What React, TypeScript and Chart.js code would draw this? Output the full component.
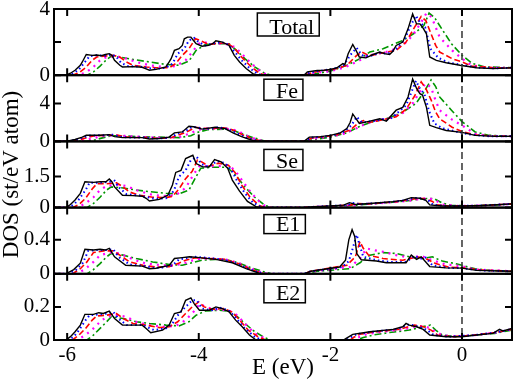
import React, { useEffect, useRef } from 'react';
import { Chart, registerables } from 'chart.js';

Chart.register(...registerables);

const FONT = 'Liberation Serif';

// ---------- axes ----------
const X_MIN = -6.2;
const X_MAX = 0.76;
const X_TICKS = [-6, -4, -2, 0];
const PANEL_LABELS = ['Total', 'Fe', 'Se', 'E1', 'E2'];
const Y_MAX = [4, 7, 3.2, 0.78, 0.4];
const Y_TICKS = [[0, 2, 4], [0, 4], [0, 1.5], [0, 0.4], [0, 0.2]];

// ---------- Total ----------
const TOTAL_BLACK = [[-6.2,0],[-6.02,0],[-5.95,0.12],[-5.88,0.3],[-5.8,0.6],[-5.77,0.8],[-5.71,1.25],[-5.62,1.2],[-5.55,1.22],[-5.48,1.18],[-5.42,1.25],[-5.36,1.3],[-5.32,1.2],[-5.28,0.9],[-5.2,0.6],[-5.16,0.5],[-5.0,0.52],[-4.86,0.48],[-4.8,0.38],[-4.75,0.3],[-4.65,0.35],[-4.5,0.5],[-4.45,0.8],[-4.42,1.0],[-4.37,1.5],[-4.3,1.6],[-4.25,1.8],[-4.22,2.2],[-4.17,2.3],[-4.12,2.3],[-4.08,2.1],[-4.04,1.9],[-3.95,1.75],[-3.85,1.8],[-3.79,1.9],[-3.74,2.08],[-3.64,2.0],[-3.54,1.8],[-3.5,1.5],[-3.46,1.2],[-3.38,0.8],[-3.28,0.4],[-3.18,0.1],[-3.1,0],[-2.4,0],[-2.35,0.2],[-2.2,0.28],[-2.1,0.3],[-1.99,0.35],[-1.9,0.45],[-1.81,0.7],[-1.78,0.65],[-1.73,1.3],[-1.66,1.86],[-1.61,1.5],[-1.56,1.1],[-1.46,1.05],[-1.35,1.25],[-1.25,1.4],[-1.18,1.3],[-1.1,1.25],[-1.05,1.45],[-1.0,1.8],[-0.9,2.0],[-0.82,2.8],[-0.75,3.7],[-0.72,3.4],[-0.69,3.1],[-0.64,3.1],[-0.6,2.9],[-0.54,2.5],[-0.49,1.1],[-0.39,0.9],[-0.24,0.75],[-0.03,0.6],[0.22,0.45],[0.47,0.4],[0.76,0.45]];
const TOTAL_BLUE = [[-6.2,0],[-5.98,0],[-5.9,0.12],[-5.82,0.35],[-5.72,0.85],[-5.66,1.15],[-5.55,1.2],[-5.42,1.18],[-5.32,1.25],[-5.25,1.1],[-5.18,0.75],[-5.08,0.55],[-4.9,0.52],[-4.75,0.42],[-4.65,0.38],[-4.5,0.45],[-4.4,0.7],[-4.32,1.3],[-4.22,1.6],[-4.15,2.1],[-4.07,2.25],[-4.0,2.0],[-3.9,1.8],[-3.75,1.95],[-3.65,2.0],[-3.55,1.85],[-3.45,1.4],[-3.35,0.9],[-3.22,0.4],[-3.1,0.08],[-3.02,0],[-2.4,0],[-2.3,0.18],[-2.1,0.3],[-1.95,0.38],[-1.8,0.6],[-1.68,1.3],[-1.6,1.65],[-1.52,1.2],[-1.4,1.15],[-1.25,1.35],[-1.12,1.3],[-1.0,1.6],[-0.88,2.1],[-0.78,3.0],[-0.7,3.6],[-0.64,3.2],[-0.56,2.9],[-0.48,1.6],[-0.36,1.05],[-0.2,0.75],[0.0,0.62],[0.25,0.45],[0.5,0.42],[0.76,0.45]];
const TOTAL_RED = [[-6.2,0],[-5.92,0],[-5.82,0.15],[-5.72,0.45],[-5.62,0.9],[-5.55,1.1],[-5.45,1.15],[-5.3,1.2],[-5.2,1.1],[-5.1,0.8],[-5.0,0.6],[-4.8,0.5],[-4.65,0.45],[-4.45,0.45],[-4.35,0.7],[-4.25,1.2],[-4.15,1.6],[-4.05,2.2],[-3.98,2.1],[-3.85,1.85],[-3.7,1.95],[-3.55,1.9],[-3.45,1.6],[-3.35,1.1],[-3.2,0.5],[-3.07,0.1],[-2.98,0],[-2.4,0],[-2.28,0.15],[-2.1,0.28],[-1.9,0.4],[-1.75,0.6],[-1.6,1.2],[-1.52,1.4],[-1.42,1.2],[-1.3,1.25],[-1.15,1.4],[-1.0,1.5],[-0.85,2.0],[-0.72,2.9],[-0.62,3.55],[-0.55,3.3],[-0.48,2.6],[-0.4,1.8],[-0.34,1.4],[-0.15,1.0],[0.0,0.8],[0.15,0.55],[0.5,0.45],[0.76,0.45]];
const TOTAL_MAGENTA = [[-6.2,0],[-5.85,0],[-5.72,0.15],[-5.6,0.5],[-5.5,0.9],[-5.4,1.1],[-5.25,1.15],[-5.1,1.0],[-4.95,0.8],[-4.75,0.6],[-4.55,0.5],[-4.35,0.55],[-4.2,0.9],[-4.1,1.4],[-4.0,1.9],[-3.92,2.0],[-3.8,1.9],[-3.6,1.9],[-3.45,1.7],[-3.35,1.3],[-3.2,0.7],[-3.05,0.2],[-2.95,0],[-2.4,0],[-2.25,0.12],[-2.0,0.25],[-1.8,0.45],[-1.6,0.8],[-1.45,1.15],[-1.3,1.3],[-1.1,1.45],[-0.9,1.8],[-0.75,2.4],[-0.62,3.2],[-0.54,3.75],[-0.46,3.5],[-0.4,2.9],[-0.34,2.3],[-0.15,1.5],[0.0,1.0],[0.15,0.6],[0.4,0.45],[0.76,0.45]];
const TOTAL_GREEN = [[-6.2,0],[-5.7,0],[-5.6,0.2],[-5.5,0.55],[-5.4,0.95],[-5.33,1.15],[-5.2,1.1],[-5.0,0.95],[-4.75,0.8],[-4.5,0.65],[-4.3,0.6],[-4.15,0.85],[-4.04,1.5],[-3.9,1.85],[-3.7,1.9],[-3.54,1.9],[-3.44,1.55],[-3.3,1.0],[-3.15,0.5],[-3.0,0.12],[-2.9,0],[-2.4,0],[-2.2,0.1],[-2.0,0.25],[-1.75,0.6],[-1.55,1.0],[-1.4,1.4],[-1.2,1.6],[-0.9,2.1],[-0.7,2.6],[-0.58,3.0],[-0.5,3.75],[-0.42,3.5],[-0.34,3.0],[-0.16,1.9],[0.0,1.2],[0.16,0.7],[0.35,0.5],[0.76,0.45]];

// ---------- Fe ----------
const FE_BLACK = [[-6.2,0],[-6.02,0],[-5.88,0.2],[-5.77,0.45],[-5.71,0.65],[-5.5,0.65],[-5.36,0.72],[-5.28,0.5],[-5.16,0.4],[-4.86,0.4],[-4.75,0.25],[-4.6,0.3],[-4.45,0.45],[-4.37,0.9],[-4.25,1.0],[-4.15,1.6],[-4.08,1.55],[-3.95,1.3],[-3.75,1.5],[-3.6,1.35],[-3.48,0.9],[-3.35,0.5],[-3.2,0.15],[-3.1,0],[-2.4,0],[-2.32,0.45],[-2.15,0.5],[-2.0,0.64],[-1.85,0.9],[-1.75,1.35],[-1.7,2.0],[-1.66,2.9],[-1.6,2.3],[-1.56,1.9],[-1.4,2.15],[-1.25,2.4],[-1.15,2.15],[-1.0,3.3],[-0.9,3.6],[-0.82,4.7],[-0.75,6.6],[-0.69,5.6],[-0.64,5.05],[-0.6,4.9],[-0.54,3.6],[-0.49,1.7],[-0.39,1.45],[-0.24,1.15],[0,0.95],[0.2,0.64],[0.5,0.53],[0.76,0.55]];
const FE_BLUE = [[-6.2,0],[-5.98,0],[-5.85,0.2],[-5.72,0.5],[-5.65,0.62],[-5.45,0.65],[-5.3,0.7],[-5.2,0.5],[-5.08,0.42],[-4.8,0.4],[-4.68,0.3],[-4.5,0.35],[-4.38,0.6],[-4.3,0.9],[-4.2,1.1],[-4.1,1.55],[-4.0,1.45],[-3.9,1.3],[-3.7,1.5],[-3.55,1.3],[-3.42,0.85],[-3.28,0.4],[-3.12,0.1],[-3.02,0],[-2.4,0],[-2.3,0.4],[-2.1,0.5],[-1.95,0.65],[-1.8,1.0],[-1.68,1.7],[-1.6,2.6],[-1.52,2.0],[-1.35,2.15],[-1.2,2.35],[-1.1,2.3],[-0.95,3.2],[-0.85,3.8],[-0.78,5.0],[-0.7,6.4],[-0.64,5.6],[-0.57,5.0],[-0.5,3.2],[-0.42,1.9],[-0.3,1.4],[-0.1,1.05],[0.1,0.75],[0.4,0.55],[0.76,0.55]];
const FE_RED = [[-6.2,0],[-5.92,0],[-5.8,0.2],[-5.68,0.45],[-5.58,0.6],[-5.4,0.65],[-5.25,0.68],[-5.12,0.5],[-5.0,0.42],[-4.75,0.4],[-4.6,0.33],[-4.42,0.38],[-4.3,0.7],[-4.18,1.0],[-4.05,1.5],[-3.95,1.4],[-3.8,1.35],[-3.62,1.45],[-3.48,1.2],[-3.35,0.75],[-3.2,0.3],[-3.05,0.05],[-2.98,0],[-2.4,0],[-2.28,0.35],[-2.1,0.48],[-1.9,0.7],[-1.7,1.2],[-1.58,1.9],[-1.5,2.2],[-1.4,2.0],[-1.2,2.3],[-1.0,2.6],[-0.85,3.4],[-0.72,4.8],[-0.62,6.3],[-0.55,5.6],[-0.47,4.4],[-0.4,3.1],[-0.34,2.4],[-0.15,1.5],[0,1.05],[0.2,0.7],[0.5,0.55],[0.76,0.55]];
const FE_MAGENTA = [[-6.2,0],[-5.85,0],[-5.72,0.15],[-5.6,0.35],[-5.48,0.55],[-5.3,0.62],[-5.15,0.6],[-4.95,0.5],[-4.7,0.42],[-4.5,0.38],[-4.3,0.45],[-4.15,0.8],[-4.02,1.2],[-3.92,1.35],[-3.7,1.35],[-3.5,1.3],[-3.38,1.0],[-3.25,0.55],[-3.1,0.15],[-2.95,0],[-2.4,0],[-2.25,0.3],[-2.0,0.5],[-1.8,0.8],[-1.6,1.4],[-1.45,1.9],[-1.3,2.2],[-1.1,2.5],[-0.9,3.0],[-0.75,4.0],[-0.62,5.5],[-0.55,6.15],[-0.47,5.7],[-0.4,4.3],[-0.34,3.3],[-0.15,2.3],[0,1.7],[0.2,0.8],[0.45,0.55],[0.76,0.55]];
const FE_GREEN = [[-6.2,0],[-5.7,0],[-5.58,0.15],[-5.45,0.4],[-5.33,0.6],[-5.15,0.58],[-4.9,0.5],[-4.6,0.45],[-4.3,0.4],[-4.12,0.6],[-4.0,1.0],[-3.85,1.25],[-3.6,1.3],[-3.45,1.1],[-3.3,0.7],[-3.15,0.35],[-3.0,0.05],[-2.9,0],[-2.4,0],[-2.2,0.25],[-2.0,0.45],[-1.75,0.9],[-1.55,1.6],[-1.35,2.1],[-1.1,2.5],[-0.9,3.1],[-0.7,4.0],[-0.58,5.2],[-0.47,6.5],[-0.4,5.8],[-0.34,4.7],[-0.16,3.3],[0,2.1],[0.2,1.0],[0.4,0.65],[0.76,0.55]];

// ---------- Se ----------
const SE_BLACK = [[-6.2,0],[-6.02,0],[-5.95,0.15],[-5.88,0.37],[-5.8,0.69],[-5.73,1.25],[-5.6,1.22],[-5.5,1.25],[-5.41,1.25],[-5.36,1.38],[-5.32,1.25],[-5.28,1.0],[-5.16,0.6],[-5.0,0.58],[-4.86,0.55],[-4.8,0.45],[-4.75,0.32],[-4.6,0.4],[-4.47,0.6],[-4.4,1.09],[-4.35,1.7],[-4.27,1.8],[-4.2,2.37],[-4.09,2.53],[-4.04,2.13],[-3.94,1.97],[-3.84,1.97],[-3.76,2.32],[-3.66,2.21],[-3.56,1.9],[-3.49,1.33],[-3.38,0.8],[-3.26,0.3],[-3.13,0.05],[-3.05,0],[-2.4,0],[-2.3,0.03],[-1.8,0.12],[-1.71,0.24],[-1.62,0.15],[-1.3,0.22],[-1.05,0.29],[-0.9,0.35],[-0.77,0.48],[-0.64,0.45],[-0.55,0.35],[-0.49,0.13],[-0.3,0.08],[0,0.08],[0.3,0.1],[0.6,0.15],[0.76,0.18]];
const SE_BLUE = [[-6.2,0],[-5.98,0],[-5.9,0.15],[-5.82,0.4],[-5.72,0.85],[-5.66,1.2],[-5.5,1.2],[-5.35,1.25],[-5.28,1.3],[-5.22,1.0],[-5.1,0.65],[-4.9,0.58],[-4.75,0.48],[-4.65,0.42],[-4.5,0.45],[-4.38,0.8],[-4.3,1.5],[-4.2,1.8],[-4.12,2.3],[-4.03,2.45],[-3.96,2.1],[-3.85,1.97],[-3.72,2.25],[-3.6,2.15],[-3.5,1.8],[-3.42,1.3],[-3.3,0.7],[-3.18,0.25],[-3.05,0.02],[-2.98,0],[-2.4,0],[-2.3,0.03],[-1.75,0.12],[-1.65,0.22],[-1.55,0.16],[-1.2,0.24],[-1.0,0.3],[-0.85,0.36],[-0.72,0.47],[-0.6,0.44],[-0.5,0.32],[-0.44,0.13],[-0.25,0.08],[0,0.08],[0.3,0.1],[0.6,0.15],[0.76,0.18]];
const SE_RED = [[-6.2,0],[-5.92,0],[-5.82,0.15],[-5.72,0.45],[-5.62,0.9],[-5.55,1.15],[-5.4,1.15],[-5.25,1.2],[-5.15,1.0],[-5.05,0.75],[-4.9,0.6],[-4.7,0.5],[-4.5,0.48],[-4.4,0.55],[-4.3,0.9],[-4.2,1.4],[-4.1,1.75],[-4.02,2.3],[-3.95,2.2],[-3.85,2.0],[-3.7,2.15],[-3.55,2.05],[-3.45,1.7],[-3.35,1.1],[-3.22,0.5],[-3.08,0.1],[-2.98,0],[-2.4,0],[-2.3,0.03],[-1.7,0.12],[-1.58,0.2],[-1.45,0.17],[-1.15,0.25],[-0.95,0.3],[-0.8,0.38],[-0.66,0.46],[-0.55,0.42],[-0.45,0.3],[-0.38,0.14],[-0.2,0.08],[0,0.08],[0.3,0.1],[0.6,0.15],[0.76,0.18]];
const SE_MAGENTA = [[-6.2,0],[-5.85,0],[-5.72,0.2],[-5.6,0.5],[-5.5,0.85],[-5.4,1.05],[-5.25,1.1],[-5.1,1.05],[-4.95,0.85],[-4.75,0.65],[-4.55,0.55],[-4.35,0.6],[-4.2,0.95],[-4.08,1.6],[-3.98,2.05],[-3.88,2.0],[-3.7,2.0],[-3.55,2.05],[-3.45,1.8],[-3.35,1.35],[-3.2,0.7],[-3.05,0.2],[-2.95,0],[-2.4,0],[-2.25,0.03],[-1.6,0.12],[-1.5,0.18],[-1.3,0.2],[-1.0,0.27],[-0.8,0.33],[-0.6,0.44],[-0.5,0.45],[-0.4,0.35],[-0.3,0.15],[-0.1,0.09],[0.2,0.09],[0.5,0.12],[0.76,0.18]];
const SE_GREEN = [[-6.2,0],[-5.7,0],[-5.6,0.2],[-5.5,0.5],[-5.4,0.85],[-5.33,1.0],[-5.15,0.95],[-4.95,0.85],[-4.75,0.77],[-4.5,0.69],[-4.3,0.66],[-4.15,0.85],[-4.04,1.5],[-3.97,1.9],[-3.8,1.95],[-3.57,1.95],[-3.45,1.6],[-3.3,1.0],[-3.15,0.5],[-3.0,0.12],[-2.9,0],[-2.4,0],[-2.2,0.03],[-1.6,0.12],[-1.4,0.18],[-1.1,0.25],[-0.85,0.32],[-0.65,0.4],[-0.5,0.45],[-0.42,0.42],[-0.3,0.22],[-0.15,0.1],[0.1,0.09],[0.5,0.12],[0.76,0.18]];

// ---------- E1 ----------
const E1_BLACK = [[-6.2,0],[-6.02,0],[-5.9,0.05],[-5.8,0.125],[-5.73,0.29],[-5.6,0.28],[-5.5,0.29],[-5.42,0.28],[-5.36,0.3],[-5.28,0.2],[-5.11,0.1],[-4.86,0.09],[-4.75,0.06],[-4.65,0.066],[-4.45,0.1],[-4.37,0.18],[-4.25,0.19],[-4.14,0.2],[-3.99,0.19],[-3.74,0.17],[-3.49,0.13],[-3.28,0.06],[-3.13,0.02],[-3.05,0],[-2.4,0],[-2.3,0.03],[-1.86,0.08],[-1.77,0.16],[-1.72,0.4],[-1.67,0.52],[-1.63,0.44],[-1.6,0.24],[-1.53,0.165],[-1.3,0.15],[-1.15,0.13],[-0.85,0.13],[-0.77,0.22],[-0.69,0.17],[-0.62,0.2],[-0.49,0.085],[-0.24,0.07],[0,0.067],[0.22,0.04],[0.76,0.03]];
const E1_BLUE = [[-6.2,0],[-5.98,0],[-5.86,0.05],[-5.76,0.13],[-5.68,0.27],[-5.55,0.28],[-5.4,0.28],[-5.3,0.29],[-5.22,0.2],[-5.05,0.11],[-4.8,0.09],[-4.68,0.07],[-4.55,0.075],[-4.4,0.1],[-4.3,0.17],[-4.15,0.19],[-4.05,0.2],[-3.9,0.19],[-3.65,0.17],[-3.42,0.12],[-3.22,0.05],[-3.05,0.01],[-2.98,0],[-2.4,0],[-2.3,0.03],[-1.82,0.08],[-1.72,0.15],[-1.66,0.3],[-1.6,0.46],[-1.56,0.35],[-1.5,0.2],[-1.3,0.16],[-1.1,0.14],[-0.85,0.14],[-0.72,0.21],[-0.62,0.18],[-0.55,0.19],[-0.45,0.1],[-0.2,0.07],[0,0.066],[0.3,0.04],[0.76,0.03]];
const E1_RED = [[-6.2,0],[-5.92,0],[-5.8,0.06],[-5.7,0.14],[-5.6,0.25],[-5.45,0.27],[-5.3,0.27],[-5.2,0.22],[-5.05,0.14],[-4.85,0.1],[-4.65,0.08],[-4.45,0.085],[-4.32,0.12],[-4.2,0.16],[-4.05,0.19],[-3.85,0.18],[-3.6,0.17],[-3.4,0.12],[-3.2,0.05],[-3.05,0.01],[-2.98,0],[-2.4,0],[-2.3,0.03],[-1.75,0.1],[-1.62,0.2],[-1.55,0.38],[-1.5,0.3],[-1.42,0.22],[-1.2,0.18],[-0.9,0.16],[-0.68,0.2],[-0.55,0.18],[-0.4,0.12],[-0.2,0.08],[0,0.07],[0.3,0.045],[0.76,0.03]];
const E1_MAGENTA = [[-6.2,0],[-5.85,0],[-5.72,0.06],[-5.6,0.14],[-5.5,0.22],[-5.35,0.25],[-5.2,0.24],[-5.0,0.17],[-4.8,0.12],[-4.55,0.1],[-4.35,0.1],[-4.2,0.13],[-4.05,0.17],[-3.9,0.18],[-3.6,0.17],[-3.4,0.13],[-3.2,0.06],[-3.02,0.01],[-2.95,0],[-2.4,0],[-2.25,0.03],[-1.7,0.08],[-1.55,0.18],[-1.45,0.3],[-1.35,0.28],[-1.2,0.26],[-1.0,0.22],[-0.8,0.19],[-0.62,0.21],[-0.45,0.16],[-0.25,0.11],[0,0.09],[0.2,0.05],[0.76,0.03]];
const E1_GREEN = [[-6.2,0],[-5.7,0],[-5.6,0.05],[-5.5,0.12],[-5.4,0.2],[-5.33,0.24],[-5.15,0.22],[-4.95,0.18],[-4.7,0.14],[-4.45,0.11],[-4.25,0.1],[-4.1,0.13],[-3.95,0.16],[-3.75,0.17],[-3.55,0.16],[-3.4,0.13],[-3.2,0.07],[-3.0,0.02],[-2.9,0],[-2.4,0],[-2.2,0.03],[-1.7,0.06],[-1.55,0.13],[-1.4,0.22],[-1.2,0.25],[-1.0,0.24],[-0.8,0.2],[-0.6,0.18],[-0.45,0.2],[-0.3,0.15],[-0.1,0.12],[0,0.1],[0.2,0.06],[0.4,0.04],[0.76,0.03]];

// ---------- E2 ----------
const E2_BLACK = [[-6.2,0],[-6.02,0],[-5.95,0.02],[-5.88,0.05],[-5.8,0.09],[-5.73,0.155],[-5.6,0.155],[-5.52,0.165],[-5.45,0.16],[-5.36,0.175],[-5.28,0.13],[-5.16,0.09],[-4.86,0.09],[-4.8,0.07],[-4.73,0.044],[-4.55,0.06],[-4.45,0.09],[-4.37,0.16],[-4.27,0.17],[-4.2,0.24],[-4.12,0.254],[-4.07,0.22],[-3.99,0.18],[-3.84,0.18],[-3.74,0.2],[-3.64,0.19],[-3.54,0.17],[-3.44,0.12],[-3.34,0.08],[-3.23,0.03],[-3.13,0],[-2.4,0],[-1.8,0],[-1.76,0.01],[-1.66,0.034],[-1.4,0.05],[-1.05,0.064],[-0.9,0.08],[-0.85,0.1],[-0.8,0.09],[-0.69,0.08],[-0.59,0.064],[-0.49,0.03],[-0.24,0.02],[0,0.02],[0.22,0.03],[0.47,0.04],[0.57,0.064],[0.62,0.055],[0.76,0.07]];
const E2_BLUE = [[-6.2,0],[-5.98,0],[-5.9,0.02],[-5.82,0.06],[-5.72,0.12],[-5.66,0.15],[-5.5,0.155],[-5.38,0.16],[-5.3,0.17],[-5.22,0.13],[-5.1,0.09],[-4.85,0.09],[-4.68,0.06],[-4.5,0.07],[-4.4,0.1],[-4.3,0.16],[-4.2,0.2],[-4.1,0.24],[-4.03,0.24],[-3.95,0.19],[-3.8,0.18],[-3.68,0.195],[-3.55,0.18],[-3.45,0.14],[-3.3,0.07],[-3.15,0.02],[-3.05,0],[-2.4,0],[-1.75,0],[-1.7,0.015],[-1.6,0.035],[-1.35,0.05],[-1.0,0.065],[-0.8,0.095],[-0.65,0.08],[-0.53,0.06],[-0.43,0.03],[-0.2,0.02],[0.2,0.03],[0.5,0.045],[0.76,0.065]];
const E2_RED = [[-6.2,0],[-5.92,0],[-5.82,0.03],[-5.72,0.07],[-5.62,0.12],[-5.55,0.145],[-5.4,0.15],[-5.25,0.16],[-5.15,0.13],[-5.0,0.1],[-4.8,0.09],[-4.6,0.075],[-4.45,0.08],[-4.32,0.11],[-4.2,0.16],[-4.1,0.2],[-4.0,0.23],[-3.92,0.2],[-3.8,0.185],[-3.62,0.19],[-3.5,0.17],[-3.4,0.13],[-3.25,0.06],[-3.1,0.02],[-2.98,0],[-2.4,0],[-1.7,0],[-1.65,0.015],[-1.55,0.035],[-1.3,0.05],[-0.95,0.065],[-0.72,0.09],[-0.58,0.08],[-0.47,0.06],[-0.37,0.03],[-0.15,0.02],[0.2,0.03],[0.5,0.045],[0.76,0.065]];
const E2_MAGENTA = [[-6.2,0],[-5.85,0],[-5.72,0.03],[-5.6,0.07],[-5.5,0.11],[-5.4,0.14],[-5.25,0.15],[-5.1,0.14],[-4.95,0.11],[-4.75,0.09],[-4.55,0.08],[-4.35,0.085],[-4.2,0.12],[-4.08,0.17],[-3.98,0.22],[-3.9,0.2],[-3.75,0.185],[-3.55,0.18],[-3.42,0.15],[-3.3,0.1],[-3.15,0.04],[-3.0,0.01],[-2.95,0],[-2.4,0],[-1.65,0],[-1.58,0.015],[-1.45,0.035],[-1.2,0.05],[-0.9,0.065],[-0.65,0.085],[-0.5,0.075],[-0.4,0.05],[-0.3,0.03],[-0.1,0.02],[0.2,0.03],[0.5,0.045],[0.76,0.065]];
const E2_GREEN = [[-6.2,0],[-5.7,0],[-5.6,0.03],[-5.5,0.07],[-5.4,0.11],[-5.33,0.14],[-5.15,0.13],[-4.95,0.11],[-4.75,0.1],[-4.5,0.09],[-4.3,0.085],[-4.15,0.11],[-4.04,0.15],[-3.9,0.175],[-3.7,0.18],[-3.55,0.175],[-3.44,0.15],[-3.3,0.1],[-3.15,0.05],[-3.0,0.015],[-2.9,0],[-2.4,0],[-1.6,0],[-1.5,0.015],[-1.35,0.03],[-1.1,0.045],[-0.8,0.06],[-0.6,0.08],[-0.48,0.09],[-0.4,0.06],[-0.3,0.03],[-0.1,0.02],[0.2,0.03],[0.5,0.04],[0.76,0.06]];

const PANEL_SERIES = [
  [TOTAL_BLACK, TOTAL_BLUE, TOTAL_RED, TOTAL_MAGENTA, TOTAL_GREEN],
  [FE_BLACK, FE_BLUE, FE_RED, FE_MAGENTA, FE_GREEN],
  [SE_BLACK, SE_BLUE, SE_RED, SE_MAGENTA, SE_GREEN],
  [E1_BLACK, E1_BLUE, E1_RED, E1_MAGENTA, E1_GREEN],
  [E2_BLACK, E2_BLUE, E2_RED, E2_MAGENTA, E2_GREEN],
];

const LINE_STYLES = [
  { color: '#000000', width: 1.4, dash: [] as number[] },
  { color: '#0000ff', width: 2, dash: [1.5, 3] },
  { color: '#ff0000', width: 1.6, dash: [6, 3] },
  { color: '#ff00ff', width: 2.2, dash: [2, 5] },
  { color: '#009600', width: 1.6, dash: [7, 3, 2, 3] },
];

// label box geometry (left edge in eV, offset from panel top, height)
const BOX_GEOM = [
  { e: -3.11, dy: 4, h: 23 },
  { e: -3.01, dy: 4, h: 21 },
  { e: -3.01, dy: 8, h: 21 },
  { e: -3.01, dy: 7, h: 19 },
  { e: -3.01, dy: 6, h: 23 },
];

const framePlugin = {
  id: 'dosFrame',
  afterDatasetsDraw(chart: any) {
    const ctx = chart.ctx;
    const xs = chart.scales.x;
    const { left, right, top, bottom } = chart.chartArea;
    ctx.save();
    // Fermi level dashed line
    const x0 = xs.getPixelForValue(0);
    ctx.strokeStyle = '#333';
    ctx.lineWidth = 1.5;
    ctx.setLineDash([7, 4]);
    ctx.beginPath();
    ctx.moveTo(x0, top);
    ctx.lineTo(x0, bottom);
    ctx.stroke();
    ctx.setLineDash([]);

    const TL = 7;
    for (let i = 0; i < PANEL_LABELS.length; i++) {
      const ys = chart.scales['y' + i];
      ctx.strokeStyle = '#000';
      ctx.lineWidth = 2;
      ctx.strokeRect(left, ys.top, right - left, ys.bottom - ys.top);
      ctx.beginPath();
      for (const v of Y_TICKS[i]) {
        const py = ys.getPixelForValue(v);
        ctx.moveTo(left, py); ctx.lineTo(left + TL, py);
        ctx.moveTo(right, py); ctx.lineTo(right - TL, py);
      }
      for (const v of X_TICKS) {
        const px = xs.getPixelForValue(v);
        ctx.moveTo(px, ys.top); ctx.lineTo(px, ys.top + TL);
        ctx.moveTo(px, ys.bottom); ctx.lineTo(px, ys.bottom - TL);
      }
      ctx.stroke();

      // label box
      const g = BOX_GEOM[i];
      ctx.font = '22px "' + FONT + '"';
      const tw = ctx.measureText(PANEL_LABELS[i]).width;
      const bx = xs.getPixelForValue(g.e);
      const by = ys.top + g.dy;
      const bw = tw + 17;
      ctx.fillStyle = '#fff';
      ctx.fillRect(bx, by, bw, g.h);
      ctx.lineWidth = 1.5;
      ctx.strokeRect(bx, by, bw, g.h);
      ctx.fillStyle = '#000';
      ctx.textBaseline = 'alphabetic';
      ctx.textAlign = 'left';
      ctx.fillText(PANEL_LABELS[i], bx + 12, by + g.h - 2.5);
    }
    ctx.restore();
  },
};

export default function App() {
  const ref = useRef<HTMLCanvasElement>(null);
  useEffect(() => {
    if (!ref.current) return;
    const datasets: any[] = [];
    PANEL_SERIES.forEach((series, i) => {
      series.forEach((arr, j) => {
        const st = LINE_STYLES[j];
        datasets.push({
          data: arr.map(([x, y]) => ({ x, y })),
          xAxisID: 'x',
          yAxisID: 'y' + i,
          borderColor: st.color,
          borderWidth: st.width,
          borderDash: st.dash,
          pointRadius: 0,
          tension: 0,
          fill: false,
          order: j,
        });
      });
    });

    const scales: any = {
      x: {
        type: 'linear',
        position: 'bottom',
        min: X_MIN,
        max: X_MAX,
        grid: { display: false, drawTicks: false },
        border: { display: false },
        afterBuildTicks: (s: any) => { s.ticks = X_TICKS.map((v) => ({ value: v })); },
        afterFit: (s: any) => { s.height = 40; s.paddingLeft = 0; s.paddingRight = 0; },
        ticks: {
          font: { family: FONT, size: 21, lineHeight: 1 },
          color: '#000',
          padding: 5,
          maxRotation: 0,
          autoSkip: false,
          callback: (v: any) => String(v),
        },
        title: {
          display: true,
          text: 'E (eV)',
          font: { family: FONT, size: 23, lineHeight: 1 },
          color: '#000',
          padding: { top: 0, bottom: 0.5 },
        },
      },
    };
    PANEL_LABELS.forEach((_, i) => {
      scales['y' + i] = {
        type: 'linear',
        position: 'left',
        stack: 'dos',
        stackWeight: 1,
        weight: 10 - i,
        min: 0,
        max: Y_MAX[i],
        grid: { display: false, drawTicks: false },
        border: { display: false },
        afterBuildTicks: (s: any) => { s.ticks = Y_TICKS[i].map((v) => ({ value: v })); },
        afterFit: (s: any) => { s.width = 54; s.paddingTop = 0; s.paddingBottom = 0; },
        ticks: {
          font: { family: FONT, size: 21, lineHeight: 1 },
          color: '#000',
          padding: 4,
          callback: (v: any) => String(v),
        },
        title: i === 2
          ? { display: true, text: 'DOS (st/eV atom)', font: { family: FONT, size: 23, lineHeight: 1 }, color: '#000', padding: { top: 0, bottom: 0 } }
          : { display: false },
      };
    });

    const chart = new Chart(ref.current, {
      type: 'line',
      data: { datasets },
      options: {
        responsive: false,
        devicePixelRatio: 1,
        animation: false,
        layout: { padding: { top: 9, right: 6, left: 0, bottom: 0 } },
        plugins: { legend: { display: false }, tooltip: { enabled: false } },
        scales,
      },
      plugins: [framePlugin],
    } as any);
    return () => chart.destroy();
  }, []);

  return (
    <div style={{ position: 'fixed', left: 0, top: 0, width: 518, height: 380, background: '#fff' }}>
      <canvas ref={ref} width={518} height={380} style={{ width: 518, height: 380, display: 'block' }} />
    </div>
  );
}
